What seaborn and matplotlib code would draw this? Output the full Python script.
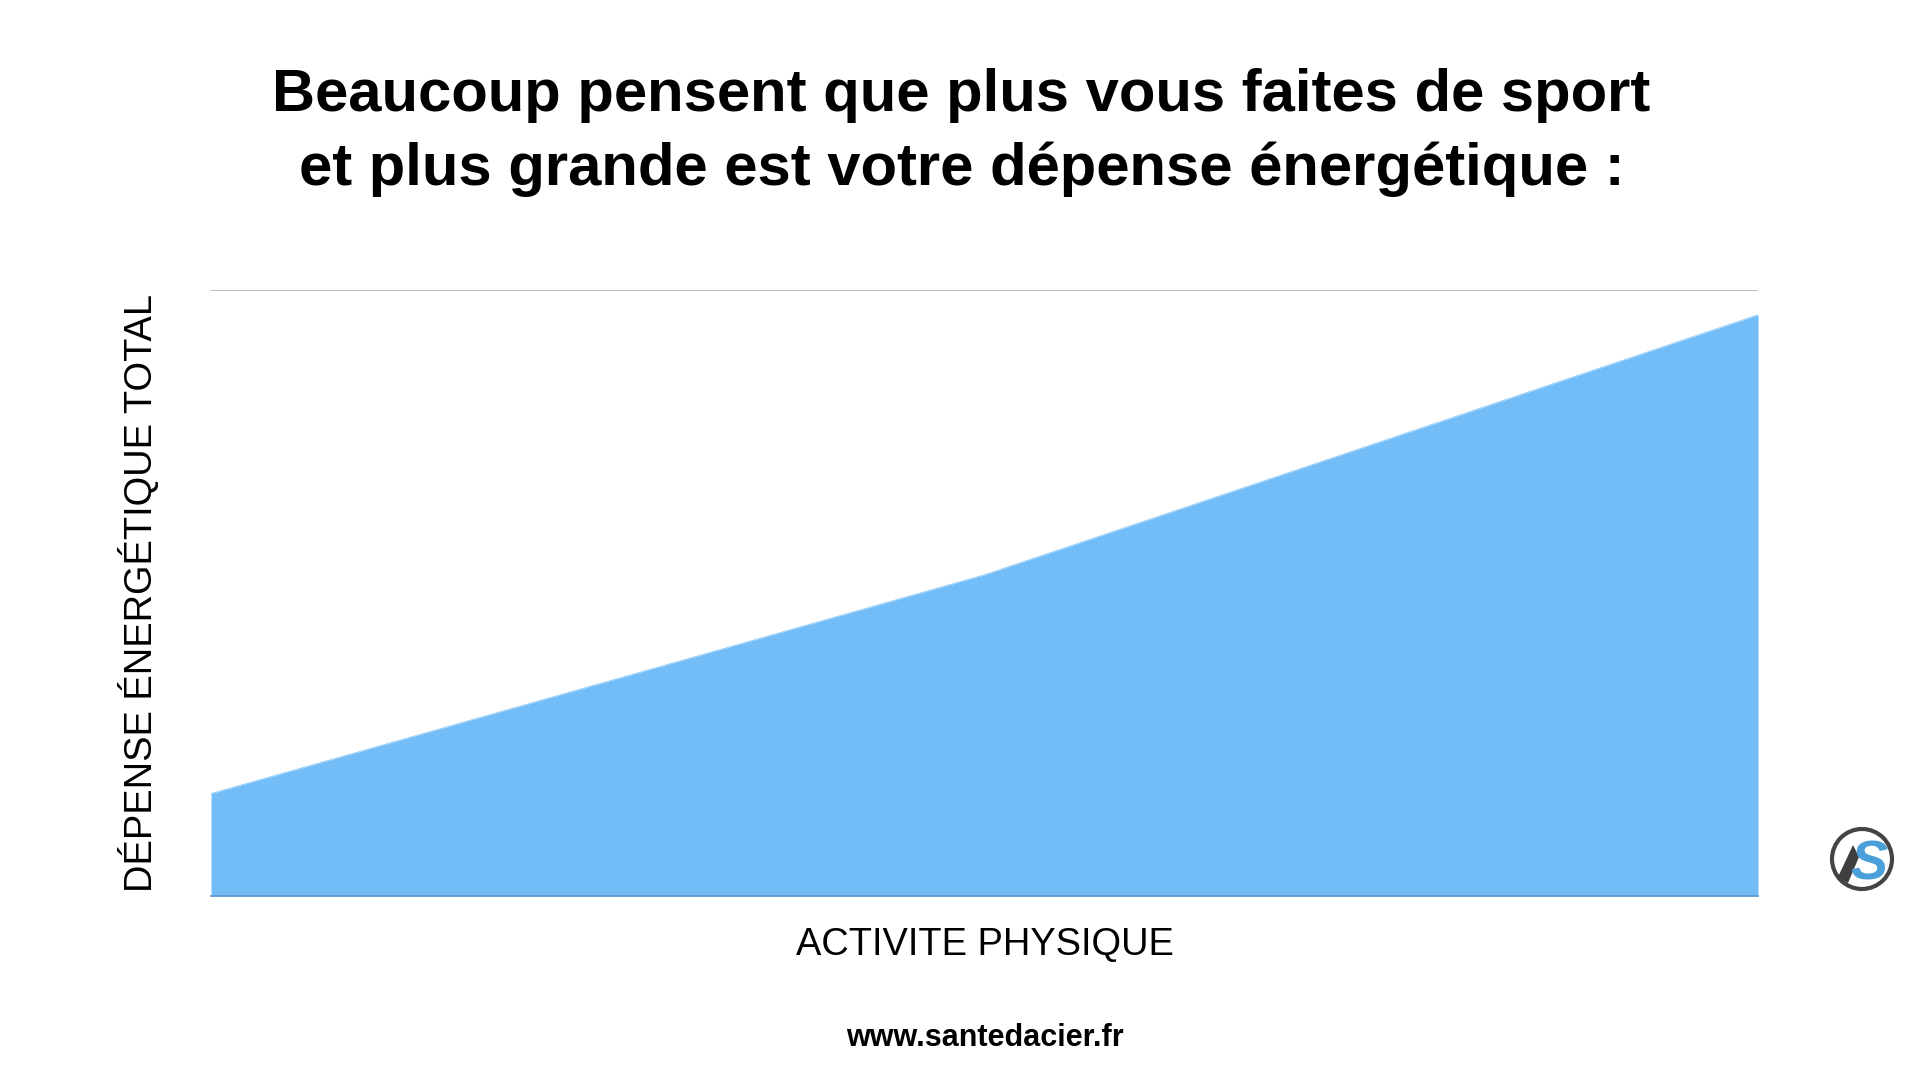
import matplotlib
matplotlib.use('Agg')
import matplotlib.pyplot as plt
import pandas as pd
import seaborn as sns
from matplotlib.patches import Circle, Polygon

# values (arbitrary units, no ticks on the original)
activite = [0, 50, 100]
depense = [16.9, 53, 95.9]

TITLE_LINES = ["Beaucoup pensent que plus vous faites de sport",
               "et plus grande est votre dépense énergétique :"]
XLABEL = "ACTIVITE PHYSIQUE"
YLABEL = "DÉPENSE ÉNERGÉTIQUE TOTAL"
SITE = "www.santedacier.fr"

BLUE = '#72BDF8'

sns.set_theme(style='white')
plt.rcParams['font.family'] = ['Liberation Sans', 'DejaVu Sans']

df = pd.DataFrame({'activite': activite, 'depense': depense})

fig = plt.figure(figsize=(19.2, 10.8), dpi=100, facecolor='white')
W, H = 1920, 1080
ax = fig.add_axes([211 / W, 1 - 896 / H, (1758 - 211) / W, (896 - 290) / H])

# area under the line
sns.lineplot(data=df, x='activite', y='depense', color=BLUE, linewidth=0.5, ax=ax)
ax.fill_between(df['activite'], df['depense'], 0, color=BLUE, linewidth=0)

ax.set_xlim(0, 100)
ax.set_ylim(0, 100)
ax.set_xticks([])
ax.set_yticks([100])
ax.set_yticklabels([])
ax.yaxis.grid(True, color='#bdbdbd', linewidth=1.4)
ax.tick_params(left=False)
sns.despine(ax=ax, left=True, top=True, right=True, bottom=False)
ax.spines['bottom'].set_color('#5d94c8')
ax.spines['bottom'].set_linewidth(1.2)

ax.set_xlabel(XLABEL, fontsize=27.4, color='black', labelpad=22)
ax.set_ylabel(YLABEL, fontsize=27.4, color='black', labelpad=27)

# title, two lines placed separately for the line spacing
fig.text(0.5007, 1 - 95 / H, TITLE_LINES[0], ha='center', va='center',
         fontsize=43, fontweight='bold', color='black')
fig.text(0.5007, 1 - 169 / H, TITLE_LINES[1], ha='center', va='center',
         fontsize=43, fontweight='bold', color='black')

fig.text(985 / W, 1 - 1038 / H, SITE, ha='center', va='center',
         fontsize=22, fontweight='bold', color='black')

# small logo at the bottom right
logo = fig.add_axes([(1862 - 36) / W, 1 - (859 + 36) / H, 72 / W, 72 / H])
logo.set_xlim(-36, 36)
logo.set_ylim(-36, 36)
logo.axis('off')
logo.add_patch(Circle((0, 0), 30, facecolor='white', edgecolor='#444444', linewidth=3))
logo.add_patch(Polygon([[-9, 14], [-24, -18], [-14, -24], [-3, 2]], closed=True,
                       facecolor='#3f3f3f', edgecolor='none'))
logo.text(7, 0, "S", fontsize=40, fontweight='bold', style='italic', color='#4a9fd8',
          ha='center', va='center_baseline')

fig.savefig('out.png', dpi=100, facecolor='white')
